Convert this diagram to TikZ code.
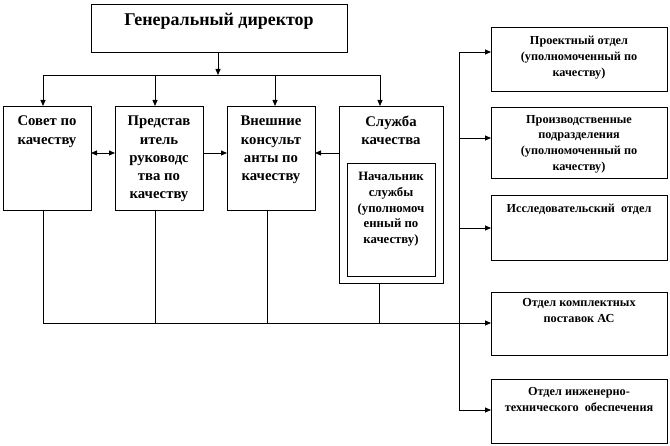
\documentclass[tikz,border=0pt]{standalone}
\usepackage{fontspec}
\setmainfont{Liberation Serif}
\usetikzlibrary{arrows.meta}
\begin{document}
\begin{tikzpicture}[x=1bp,y=-1bp,
  box/.style={draw, line width=0.8bp, inner sep=0, outer sep=0, anchor=north west},
  txt/.style={align=center, anchor=north, inner sep=0},
  bigtxt/.style={txt, font=\bfseries\fontsize{18}{20}\selectfont},
  midtxt/.style={txt, font=\bfseries\fontsize{14.8}{18.3}\selectfont},
  innertxt/.style={txt, font=\bfseries\fontsize{12.8}{15.8}\selectfont},
  smalltxt/.style={txt, font=\bfseries\fontsize{12.3}{15.8}\selectfont},
  ln/.style={line width=0.8bp},
  arr/.style={ln, -{Triangle[length=6bp,width=5bp]}},
  darr/.style={ln, {Triangle[length=6bp,width=5bp]}-{Triangle[length=6bp,width=5bp]}}]
\useasboundingbox (0,0) rectangle (670,446);

% boxes
\node[box, minimum width=256bp, minimum height=48bp] (gd) at (91,4) {};
\node[box, minimum width=88bp, minimum height=104bp] (sov) at (3,106) {};
\node[box, minimum width=88bp, minimum height=104bp] (pred) at (115,106) {};
\node[box, minimum width=88bp, minimum height=104bp] (vn) at (227,106) {};
\node[box, minimum width=104bp, minimum height=177bp] (sl) at (339,106) {};
\node[box, minimum width=88bp, minimum height=113bp] (nach) at (347,163) {};
\node[box, minimum width=176bp, minimum height=64bp] (proj) at (491,27) {};
\node[box, minimum width=176bp, minimum height=71bp] (proizv) at (491,107) {};
\node[box, minimum width=176bp, minimum height=65bp] (issl) at (491,195) {};
\node[box, minimum width=176bp, minimum height=63bp] (kompl) at (491,292) {};
\node[box, minimum width=176bp, minimum height=64bp] (inzh) at (491,379) {};

% texts
\node[bigtxt] (gdt) at (219,13) {Генеральный директор};
\node[midtxt] (sovt) at (47,116) {Совет по\\качеству};
\node[midtxt] (predt) at (159,116) {Представ\\итель\\руководс\\тва по\\качеству};
\node[midtxt] (vnt) at (271,116) {Внешние\\консульт\\анты по\\качеству};
\node[midtxt] (slt) at (391,116) {Служба\\качества};
\node[innertxt] (nacht) at (391,172) {Начальник\\службы\\(уполномоч\\енный по\\качеству)};
\node[smalltxt] (projt) at (579,36) {Проектный отдел\\(уполномоченный по\\качеству)};
\node[smalltxt] (proizvt) at (579,115) {Производственные\\подразделения\\(уполномоченный по\\качеству)};
\node[smalltxt] (isslt) at (579,204) {Исследовательский\ \ отдел};
\node[smalltxt] (komplt) at (579,298) {Отдел комплектных\\поставок АС};
\node[smalltxt] (inzht) at (579,387) {Отдел инженерно-\\технического\ \ обеспечения};

% top bus
\coordinate (tbL) at (43,75);
\coordinate (tbR) at (380,75);
\coordinate (tbM) at (218,75);
\coordinate (tb2) at (155,75);
\coordinate (tb3) at (275,75);
\draw[arr] (gd.south -| tbM) -- (tbM);
\draw[ln] (tbL) -- (tbR);
\draw[arr] (tbL) -- (tbL |- sov.north);
\draw[arr] (tb2) -- (tb2 |- pred.north);
\draw[arr] (tb3) -- (tb3 |- vn.north);
\draw[arr] (tbR) -- (tbR |- sl.north);

% side arrows
\coordinate (hy) at (0,153);
\draw[darr] (sov.east |- hy) -- (pred.west |- hy);
\draw[arr] (pred.east |- hy) -- (vn.west |- hy);
\draw[arr] (sl.west |- hy) -- (vn.east |- hy);

% bottom bus
\coordinate (bb1) at (43,323);
\coordinate (bb2) at (155,323);
\coordinate (bb3) at (267,323);
\coordinate (bb4) at (379,323);
\draw[ln] (bb1 |- sov.south) -- (bb1);
\draw[ln] (bb2 |- pred.south) -- (bb2);
\draw[ln] (bb3 |- vn.south) -- (bb3);
\draw[ln] (bb4 |- sl.south) -- (bb4);
\draw[arr] (bb1) -- (kompl.west |- bb1);

% right bus
\coordinate (rb1) at (459,52);
\coordinate (rb2) at (459,138);
\coordinate (rb3) at (459,228);
\coordinate (rb5) at (459,410);
\draw[ln] (rb1) -- (rb5);
\draw[arr] (rb1) -- (proj.west |- rb1);
\draw[arr] (rb2) -- (proizv.west |- rb2);
\draw[arr] (rb3) -- (issl.west |- rb3);
\draw[arr] (rb5) -- (inzh.west |- rb5);
\end{tikzpicture}
\end{document}
